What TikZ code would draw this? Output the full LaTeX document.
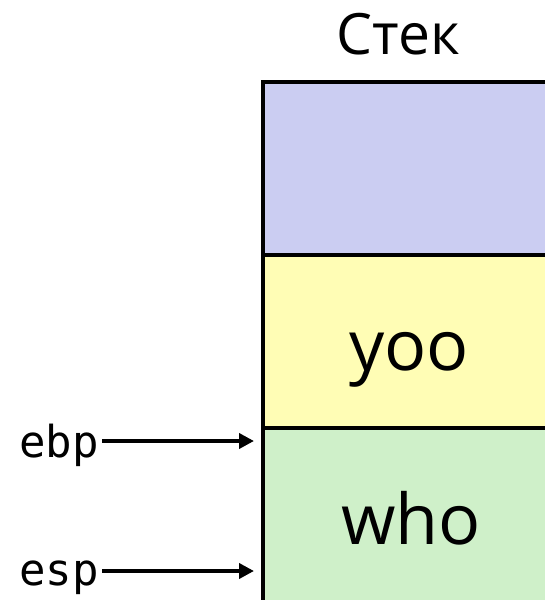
\documentclass[tikz,border=0pt]{standalone}
\usepackage{fontspec}
\setmainfont{Open Sans}
\setmonofont{DejaVu Sans Mono}
\usetikzlibrary{arrows.meta}
\definecolor{cpurple}{HTML}{CBCDF2}
\definecolor{cyellow}{HTML}{FFFDB5}
\definecolor{cgreen}{HTML}{CFF0C9}
\tikzset{
  cell/.style={draw=black, line width=4.5pt},
  titletext/.style={font=\fontsize{57}{66}\selectfont, inner sep=0pt, anchor=base},
  bigtext/.style={font=\fontsize{70}{80}\selectfont, inner sep=0pt, anchor=base},
  reglabel/.style={font=\ttfamily\fontsize{44}{50}\selectfont, inner sep=0pt, anchor=base east},
  ptr/.style={line width=4pt, -{Triangle[length=15pt,width=15pt]}}
}
\begin{document}
\begin{tikzpicture}[x=1pt,y=-1pt]
\useasboundingbox (0,0) rectangle (545,600);
\clip (0,0) rectangle (545,600);
\fill[cpurple] (263,82) rectangle (560,255);
\fill[cyellow] (263,255) rectangle (560,428);
\fill[cgreen] (263,428) rectangle (560,620);
\draw[cell] (263,620) -- (263,82) -- (560,82);
\draw[cell] (263,255) -- (560,255);
\draw[cell] (263,428) -- (560,428);
\node[titletext] (title) at (398,54) {Стек};
\node[bigtext] (yoo) at (409,370) {yoo};
\node[bigtext] (who) at (411,544) {who};
\coordinate (ebpT) at (254,441);
\coordinate (espT) at (254,571);
\node[reglabel] (ebp) at (99,457) {ebp};
\node[reglabel] (esp) at (99,585) {esp};
\draw[ptr] (ebp.east |- ebpT) ++(3,0) -- (ebpT);
\draw[ptr] (esp.east |- espT) ++(3,0) -- (espT);
\end{tikzpicture}
\end{document}
